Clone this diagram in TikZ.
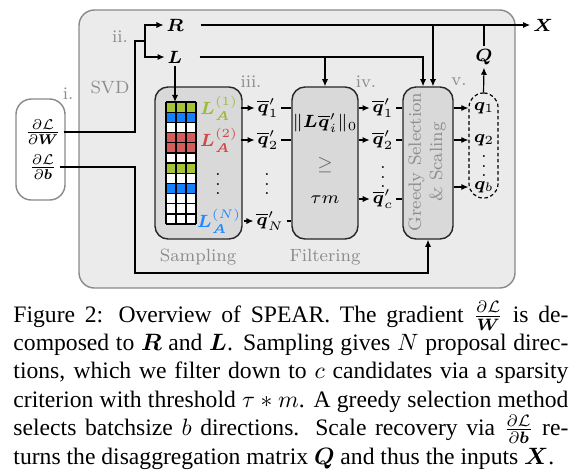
\documentclass[tikz,border=0pt]{standalone}
\usepackage{fix-cm}
\usepackage{amsmath,bm}
\usepackage{fontspec}
\newfontfamily\capfont{Liberation Serif}
\usetikzlibrary{arrows.meta,calc}
\definecolor{panelfill}{HTML}{EBEBEB}
\definecolor{panelborder}{HTML}{8A8A8A}
\definecolor{boxfill}{HTML}{D9D9D9}
\definecolor{lblgray}{HTML}{8C8C8C}
\definecolor{gG}{HTML}{A5C437}
\definecolor{gB}{HTML}{1482FF}
\definecolor{gR}{HTML}{D65D5D}
\definecolor{cG}{HTML}{9BBB3A}
\definecolor{cR}{HTML}{D04848}
\definecolor{cB}{HTML}{2288FF}
\def\pxu{0.4232pt}
\begin{document}
\begin{tikzpicture}[x=0.4232pt,y=-0.4232pt,
  every node/.style={font=\fontsize{7.5}{9}\selectfont, inner sep=1pt},
  conn/.style={line width=0.5pt, draw=black},
  arr/.style={conn, -{Latex[length=3pt,width=2.6pt]}},
  stagebox/.style={draw=black!85, line width=0.6pt, fill=boxfill, rounded corners=5.5pt, inner sep=0pt},
  lbl/.style={text=lblgray},
  capline/.style={anchor=base west, inner sep=0pt, font=\capfont\fontsize{10}{12}\selectfont},
]
\useasboundingbox (0,0) rectangle (582,472);
% panels
\draw[draw=panelborder, fill=panelfill, line width=0.6pt, rounded corners=6.5pt] (79,10) rectangle (515,288);
\draw[draw=panelborder, fill=white, line width=0.6pt, rounded corners=6.5pt] (16,99) rectangle (65,200);
% stage boxes
\node[stagebox, minimum width={87*\pxu}, minimum height={152*\pxu}] (samp) at (198.5,163) {};
\node[stagebox, minimum width={66*\pxu}, minimum height={152*\pxu}] (filter) at (325,163) {};
\node[stagebox, minimum width={50*\pxu}, minimum height={152*\pxu}] (greedy) at (428,163) {};
\node[draw, line width=0.5pt, dash pattern=on 1.5pt off 1.1pt, rounded corners=6pt, minimum width={29*\pxu}, minimum height={105*\pxu}, inner sep=0pt] (qbox) at (483.5,145.5) {};
% grid
\foreach \c [count=\i from 0] in {gG,gB,white,gR,gR,white,gG,white,gB,white,white,white}
  \fill[\c] (166,{102+\i*10.17}) rectangle (196,{102+(\i+1)*10.17});
\foreach \i in {0,...,12} \draw[line width=0.55pt] (166,{102+\i*10.17}) -- (196,{102+\i*10.17});
\foreach \j in {0,...,3} \draw[line width=0.55pt] ({166+\j*10},102) -- ({166+\j*10},224.04);
\coordinate (gridtop) at (176,102);
% texts
\node (R) at (175,25) {$\bm{R}$};
\node (L) at (175,57) {$\bm{L}$};
\node (X) at (543,25) {$\bm{X}$};
\node (Q) at (484,57) {$\bm{Q}$};
\node (dW) at (43,132) {\fontsize{8}{10}\selectfont$\frac{\partial\mathcal{L}}{\partial\bm{W}}$};
\node (db) at (43,167) {\fontsize{8}{10}\selectfont$\frac{\partial\mathcal{L}}{\partial\bm{b}}$};
\node[lbl] (li) at (68,94) {i.};
\node[lbl] (lii) at (120,37) {ii.};
\node[lbl] (lsvd) at (110,87) {SVD};
\node[lbl] (liii) at (251,82) {iii.};
\node[lbl] (liv) at (366,82) {iv.};
\node[lbl] (lv) at (459,82) {v.};
\node[lbl] (lsamp) at (198,257) {Sampling};
\node[lbl] (lfilt) at (325,257) {Filtering};
% sampling labels
\node[text=cG] (la1) at (219,108) {$\bm{L}_{\bm{A}}^{(1)}$};
\node[text=cR] (la2) at (219,140) {$\bm{L}_{\bm{A}}^{(2)}$};
\node (lad) at (218,177) {$\vdots$};
\node[text=cB] (laN) at (219,221) {$\bm{L}_{\bm{A}}^{(N)}$};
\node (qa1) at (268,108) {$\overline{\bm{q}}'_1$};
\node (qa2) at (268,140) {$\overline{\bm{q}}'_2$};
\node (qad) at (267,177) {$\vdots$};
\node (qaN) at (270,221) {$\overline{\bm{q}}'_N$};
% filter
\node (ft1) at (325,123) {$\|\bm{L}\overline{\bm{q}}'_i\|_0$};
\node[text=black!60] (ft2) at (325,165) {$\geq$};
\node (ft3) at (325,200) {$\tau m$};
\node (qb1) at (383,108) {$\overline{\bm{q}}'_1$};
\node (qb2) at (383,140) {$\overline{\bm{q}}'_2$};
\node (qbd) at (383,170) {$\vdots$};
\node (qbc) at (383,199) {$\overline{\bm{q}}'_c$};
% greedy
\node[lbl, rotate=90, align=center] (gtext) at (427,162) {Greedy Selection\\\& Scaling};
% outputs
\node (qv1) at (484,108) {$\bm{q}_1$};
\node (qv2) at (484,140) {$\bm{q}_2$};
\node (qvd) at (484,159) {$\vdots$};
\node (qvb) at (484,187) {$\bm{q}_b$};
% connectors
\coordinate (k1) at (135,41);
\coordinate (svd) at (145,41);
\coordinate (k3) at (135,273);
\draw[conn] (dW.east) -| (k1) -- (svd);
\draw[arr] (svd) |- (R.west);
\draw[arr] (svd) |- (L.west);
\draw[arr] ([xshift=6pt]R.east) -- (X.west);
\coordinate (gL) at ([xshift=-2.1pt]greedy.north);
\coordinate (gR) at ([xshift=2.1pt]greedy.north);
\draw[arr] ([xshift=6pt]L.east) -| (gL);
\draw[arr] (filter.north |- L) -- (filter.north);
\draw[arr] (gR |- R) -- (gR);
\draw[arr] (L.south) -- (L.south |- gridtop);
\draw[arr] (db.east) -| (k3) -| (greedy.south);
\draw[arr] (la1) -- (qa1);
\draw[arr] (la2) -- (qa2);
\draw[arr] (laN) -- (qaN);
\draw[conn] (qa1) -- (qa1 -| filter.west);
\draw[conn] (qa2) -- (qa2 -| filter.west);
\draw[conn] (qaN) -- (qaN -| filter.west);
\draw[arr] (qb1 -| filter.east) -- (qb1);
\draw[arr] (qb2 -| filter.east) -- (qb2);
\draw[arr] (qbc -| filter.east) -- (qbc);
\draw[conn] (qb1) -- (qb1 -| greedy.west);
\draw[conn] (qb2) -- (qb2 -| greedy.west);
\draw[conn] (qbc) -- (qbc -| greedy.west);
\draw[arr] (qv1 -| greedy.east) -- (qbox.west |- qv1);
\draw[arr] (qv2 -| greedy.east) -- (qbox.west |- qv2);
\draw[arr] (qvb -| greedy.east) -- (qbox.west |- qvb);
\draw[arr] (qbox.north) -- (Q.south);
\draw[conn] (Q.north) -- (Q.north |- R);
% caption
\node[capline] (cap1) at (13,322) {\makebox[234.87pt][s]{Figure 2: Overview of SPEAR. The gradient $\frac{\partial\mathcal{L}}{\bm{W}}$ is de-}};
\node[capline] (cap2) at (13,350.4) {\makebox[234.87pt][s]{composed to $\bm{R}$ and $\bm{L}$. Sampling gives $N$ proposal direc-}};
\node[capline] (cap3) at (13,378.8) {\makebox[234.87pt][s]{tions, which we filter down to $c$ candidates via a sparsity}};
\node[capline] (cap4) at (13,407.2) {\makebox[234.87pt][s]{criterion with threshold $\tau * m$. A greedy selection method}};
\node[capline] (cap5) at (13,435.6) {\makebox[234.87pt][s]{selects batchsize $b$ directions. Scale recovery via $\frac{\partial\mathcal{L}}{\partial\bm{b}}$ re-}};
\node[capline] (cap6) at (13,464) {turns the disaggregation matrix $\bm{Q}$ and thus the inputs $\bm{X}$.};
\end{tikzpicture}
\end{document}
